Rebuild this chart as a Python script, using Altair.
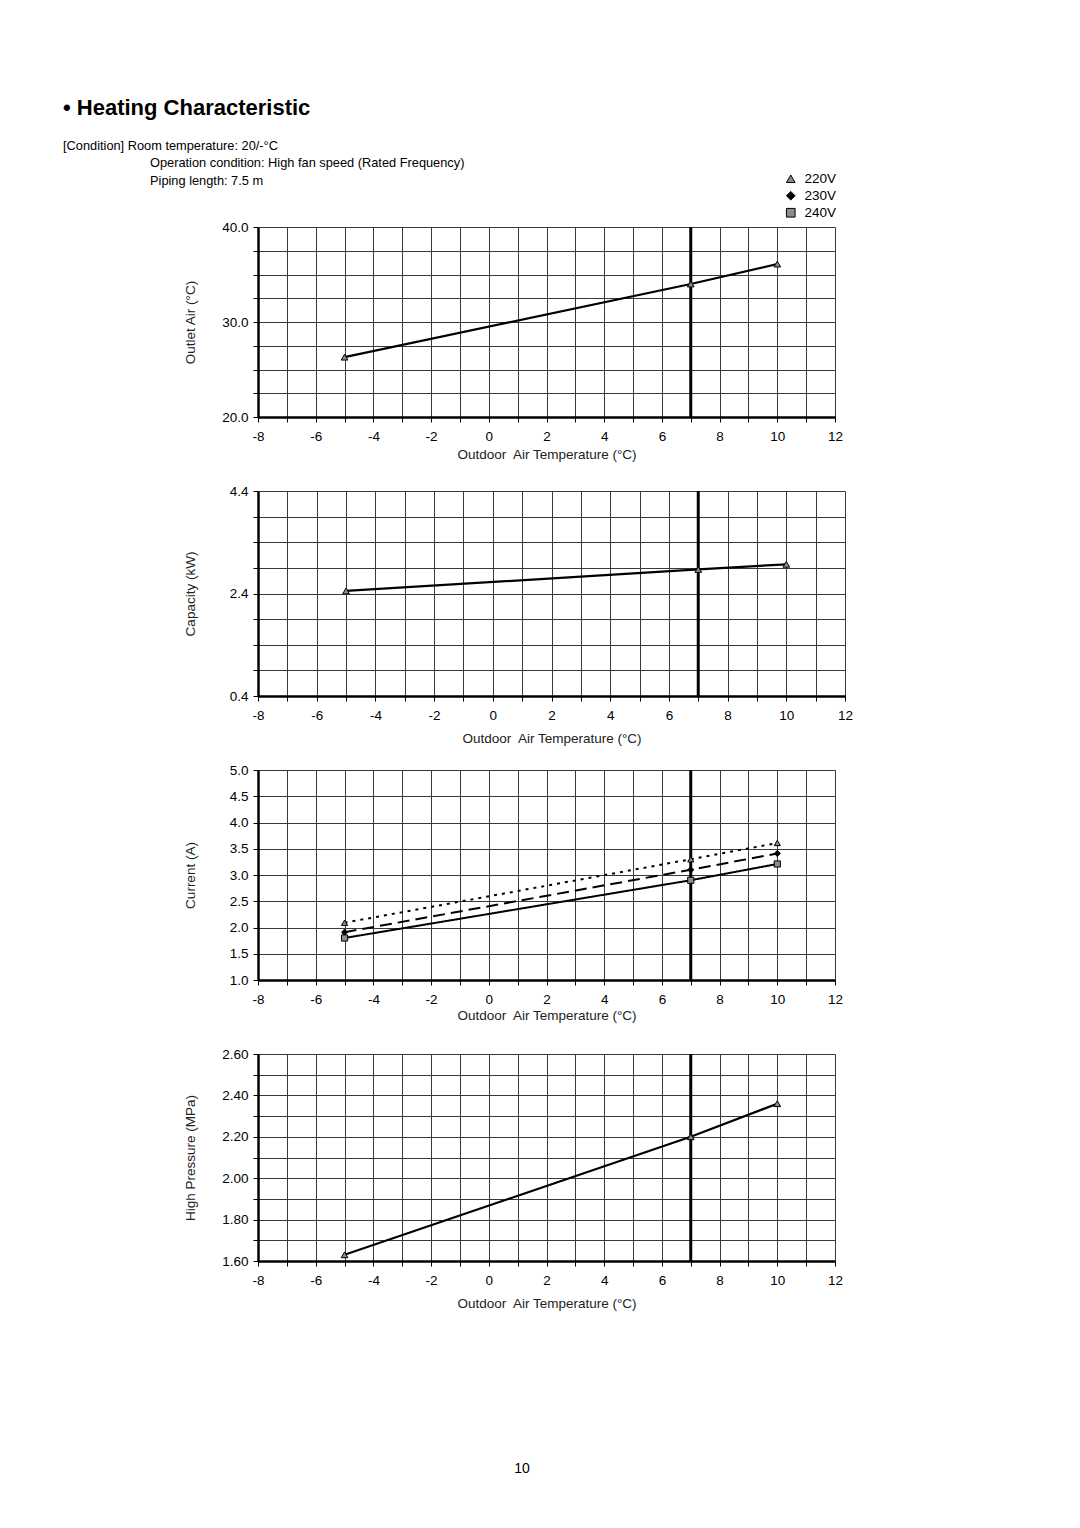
import altair as alt
import pandas as pd

# ---------------- data ----------------
outdoor_temp = [-5, 7, 10]
outlet_air = [26.3, 34.0, 36.1]
capacity_kw = [2.45, 2.87, 2.97]
current_220 = [2.09, 3.30, 3.61]
current_230 = [1.91, 3.10, 3.41]
current_240 = [1.80, 2.90, 3.21]
high_pressure = [1.63, 2.20, 2.36]
voltages = ["220V", "230V", "240V"]
rated_temp = [7]

x_grid_values = list(range(-8, 13))
outlet_grid = [20, 22.5, 25, 27.5, 30, 32.5, 35, 37.5, 40]
outlet_labels = [20, 30, 40]
capacity_grid = [0.4, 0.9, 1.4, 1.9, 2.4, 2.9, 3.4, 3.9, 4.4]
capacity_labels = [0.4, 2.4, 4.4]
current_grid = [1.0, 1.5, 2.0, 2.5, 3.0, 3.5, 4.0, 4.5, 5.0]
current_labels = current_grid
pressure_grid = [1.6, 1.7, 1.8, 1.9, 2.0, 2.1, 2.2, 2.3, 2.4, 2.5, 2.6]
pressure_labels = [1.6, 1.8, 2.0, 2.2, 2.4, 2.6]

title_text = "\u2022 Heating Characteristic"
condition_lines = [
    "[Condition] Room temperature: 20/-\u00b0C",
    "Operation condition: High fan speed (Rated Frequency)",
    "Piping length: 7.5 m",
]
page_number = "10"
x_title = "Outdoor\u00a0 Air Temperature (\u00b0C)"

HEAD_FONT = "Liberation Sans"
FONT = "Liberation Sans"
FS = 13.5
SHAPES = ["triangle-up", "diamond", "square"]
FILLS = ["#8c8c8c", "#000000", "#8c8c8c"]
DASHES = [[3, 5], [12, 6], [1, 0]]


def label_expr(values, fmt):
    cond = " || ".join(f"abs(datum.value - {v}) < 0.001" for v in values)
    return f"({cond}) ? format(datum.value, '{fmt}') : ''"


def x_enc(width, title_y):
    return alt.X(
        "t:Q",
        scale=alt.Scale(domain=[-8, 12], nice=False, zero=False),
        axis=alt.Axis(
            values=x_grid_values,
            labelExpr="datum.value % 2 == 0 ? toString(datum.value) : ''",
            labelFlush=False,
            title=x_title,
            titleX=width / 2,
            titleY=title_y,
            titleAlign="center",
            titleBaseline="middle",
            labelPadding=7,
        ),
    )


def y_enc(field, title, domain, grid, labels, fmt, height):
    return alt.Y(
        f"{field}:Q",
        scale=alt.Scale(domain=domain, nice=False, zero=False),
        axis=alt.Axis(
            values=grid,
            labelExpr=label_expr(labels, fmt),
            labelFlush=False,
            title=title,
            titleX=-68,
            titleY=height / 2,
            titleAngle=-90,
            titleAlign="center",
            titleBaseline="middle",
            labelPadding=5,
        ),
    )


def rule_layer(X):
    return alt.Chart(pd.DataFrame({"t": rated_temp})).mark_rule(
        color="black", strokeWidth=3
    ).encode(x=X)


def single_panel(values, field, title, domain, grid, labels, fmt, width, height,
                 title_y, with_legend=False, extra=None):
    df = pd.DataFrame({"t": outdoor_temp, field: values, "voltage": ["220V"] * 3})
    X = x_enc(width, title_y)
    Y = y_enc(field, title, domain, grid, labels, fmt, height)
    line = alt.Chart(df).mark_line(color="black", strokeWidth=2.2).encode(x=X, y=Y)
    if with_legend:
        leg = alt.Legend(
            orient="none", legendX=526, legendY=-55, title=None,
            labelFont=FONT, labelFontSize=FS, labelColor="black",
            symbolSize=75, symbolStrokeColor="black", symbolStrokeWidth=1,
            symbolOpacity=1, rowPadding=2, padding=0, labelOffset=7,
        )
        pts = alt.Chart(df).mark_point(
            filled=True, size=45, strokeWidth=1, opacity=1
        ).encode(
            x=X, y=Y,
            shape=alt.Shape("voltage:N", scale=alt.Scale(domain=voltages, range=SHAPES), legend=leg),
            fill=alt.Fill("voltage:N", scale=alt.Scale(domain=voltages, range=FILLS), legend=leg),
            stroke=alt.Stroke("voltage:N", scale=alt.Scale(domain=voltages, range=["black"] * 3), legend=leg),
        )
    else:
        pts = alt.Chart(df).mark_point(
            filled=True, size=45, shape="triangle-up", fill=FILLS[0],
            stroke="black", strokeWidth=1, opacity=1
        ).encode(x=X, y=Y)
    layers = [rule_layer(X), line, pts]
    if extra is not None:
        layers.append(extra)
    return alt.layer(*layers).properties(width=width, height=height)


# ---------------- header ----------------
header = alt.layer(
    alt.Chart(pd.DataFrame({"t": [title_text]})).mark_text(
        align="left", baseline="top", font=HEAD_FONT, fontSize=22, fontWeight="bold", color="black"
    ).encode(text="t:N", x=alt.value(-195), y=alt.value(0)),
    alt.Chart(pd.DataFrame({"t": [condition_lines[0]]})).mark_text(
        align="left", baseline="middle", font=HEAD_FONT, fontSize=12.8, color="black"
    ).encode(text="t:N", x=alt.value(-195), y=alt.value(48)),
    alt.Chart(pd.DataFrame({"t": [condition_lines[1]]})).mark_text(
        align="left", baseline="middle", font=HEAD_FONT, fontSize=12.8, color="black"
    ).encode(text="t:N", x=alt.value(-108), y=alt.value(65)),
    alt.Chart(pd.DataFrame({"t": [condition_lines[2]]})).mark_text(
        align="left", baseline="middle", font=HEAD_FONT, fontSize=12.8, color="black"
    ).encode(text="t:N", x=alt.value(-108), y=alt.value(83)),
).properties(width=577, height=55)

# ---------------- panels ----------------
p1 = single_panel(outlet_air, "outlet", "Outlet Air (\u00b0C)", [20, 40], outlet_grid,
                  outlet_labels, ".1f", 577, 190, 37, with_legend=True)
p2 = single_panel(capacity_kw, "capacity", "Capacity (kW)", [0.4, 4.4], capacity_grid,
                  capacity_labels, ".1f", 587, 205, 42)

cur_df = pd.DataFrame({
    "t": outdoor_temp * 3,
    "current": current_220 + current_230 + current_240,
    "voltage": [voltages[0]] * 3 + [voltages[1]] * 3 + [voltages[2]] * 3,
})
X3 = x_enc(577, 35)
Y3 = y_enc("current", "Current (A)", [1.0, 5.0], current_grid, current_labels, ".1f", 210)
cur_lines = alt.Chart(cur_df).mark_line(color="black", strokeWidth=2).encode(
    x=X3, y=Y3,
    strokeDash=alt.StrokeDash("voltage:N", scale=alt.Scale(domain=voltages, range=DASHES), legend=None),
)
cur_pts = alt.Chart(cur_df).mark_point(
    filled=True, size=38, stroke="black", strokeWidth=1, opacity=1
).encode(
    x=X3, y=Y3,
    shape=alt.Shape("voltage:N", scale=alt.Scale(domain=voltages, range=SHAPES), legend=None),
    fill=alt.Fill("voltage:N", scale=alt.Scale(domain=voltages, range=FILLS), legend=None),
)
p3 = alt.layer(rule_layer(X3), cur_lines, cur_pts).properties(width=577, height=210)

page_text = alt.Chart(pd.DataFrame({"t": [page_number]})).mark_text(
    align="center", baseline="middle", font=HEAD_FONT, fontSize=14, color="black"
).encode(text="t:N", x=alt.value(264), y=alt.value(415))
p4 = single_panel(high_pressure, "pressure", "High Pressure (MPa)", [1.6, 2.6], pressure_grid,
                  pressure_labels, ".2f", 577, 207, 42, extra=page_text)

chart = alt.vconcat(header, p1, p2, p3, p4, spacing=74, bounds="flush").resolve_scale(
    shape="independent", fill="independent", strokeDash="independent", stroke="independent"
).resolve_legend(
    shape="independent", fill="independent", strokeDash="independent", stroke="independent"
).properties(
    padding={"left": 63, "top": 97, "right": 20, "bottom": 20},
    background="white",
).configure_view(stroke=None).configure_axis(
    labelFont=FONT, labelFontSize=FS, labelColor="black",
    titleFont=FONT, titleFontSize=FS, titleFontWeight="normal", titleColor="#222222",
    grid=True, gridColor="#3a3a3a", gridWidth=1, gridOpacity=1,
    domainColor="black", domainWidth=2.5,
    tickColor="black", tickSize=5, tickWidth=1,
)

chart.save("out.html", embed_options={"renderer": "svg", "actions": False})
